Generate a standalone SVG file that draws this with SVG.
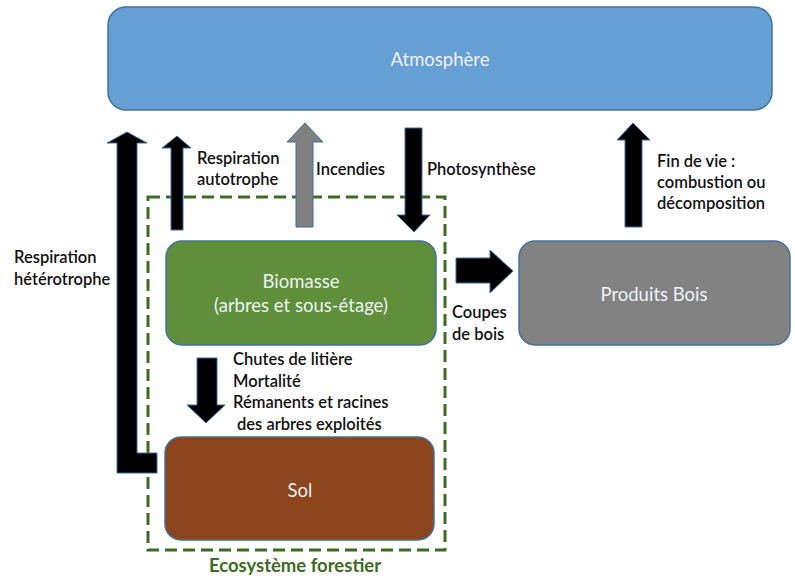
<svg xmlns="http://www.w3.org/2000/svg" width="795" height="579" viewBox="0 0 795 579">
<style>
.box{stroke:#41719c;stroke-width:1.5}
.bt{font-family:Lato,"Liberation Sans",sans-serif;font-size:18.5px;fill:#eef2f7;text-anchor:middle}
.lb{font-family:Lato,"Liberation Sans",sans-serif;font-size:16.5px;fill:#111;font-weight:600}
.arr{fill:#000;stroke:#3b6ea0;stroke-width:1}
.garr{fill:#808080;stroke:#3b6ea0;stroke-width:1}
</style>
<rect width="795" height="579" fill="#fff"/>
<g id="ecosysteme">
<rect x="148" y="197" width="297" height="353" fill="none" stroke="#3d6b22" stroke-width="3" stroke-dasharray="12,6"/>
<text x="295" y="572" font-family="Lato,'Liberation Sans',sans-serif" font-size="18.5px" font-weight="bold" fill="#3d6b22" text-anchor="middle">Ecosystème forestier</text>
</g>
<g id="atmosphere">
<rect class="box" x="108" y="7" width="664" height="103" rx="18" fill="#659fd3"/>
<text class="bt" x="440" y="66">Atmosphère</text>
</g>
<g id="biomasse">
<rect class="box" x="166" y="241" width="270" height="104" rx="16" fill="#5f8f3b"/>
<text class="bt" x="301" y="288">Biomasse</text>
<text class="bt" x="301" y="312">(arbres et sous-étage)</text>
</g>
<g id="produits">
<rect class="box" x="519" y="241" width="271" height="104" rx="16" fill="#828282"/>
<text class="bt" x="654" y="301">Produits Bois</text>
</g>
<g id="sol">
<rect class="box" x="165" y="437" width="269" height="103" rx="16" fill="#8b441c"/>
<text class="bt" x="300" y="497">Sol</text>
</g>
<g id="connectors">
<path class="arr" d="M117,143 L107,143 L127,132 L147,143 L137,143 L137,453 L157,453 L157,473 L117,473 Z"/>
<path class="arr" d="M171,230 L171,148 L162,148 L177,136 L191,148 L183,148 L183,230 Z"/>
<path class="garr" d="M296,227 L296,142 L287,142 L305,123 L323,142 L313,142 L313,227 Z"/>
<path class="arr" d="M405,128 L422,128 L422,215 L430,215 L414,232 L397,215 L405,215 Z"/>
<path class="arr" d="M456,258 L490,258 L490,250 L513,271 L490,293 L490,283 L456,283 Z"/>
<path class="arr" d="M625,227 L625,140 L617,140 L633,123 L650,140 L642,140 L642,227 Z"/>
<path class="arr" d="M197,358 L217,358 L217,405 L225,405 L206,423 L187,405 L197,405 Z"/>
</g>
<g id="labels">
<text class="lb" x="197" y="164">Respiration</text>
<text class="lb" x="197" y="185">autotrophe</text>
<text class="lb" x="316" y="175">Incendies</text>
<text class="lb" x="427" y="175">Photosynthèse</text>
<text class="lb" x="14" y="263">Respiration</text>
<text class="lb" x="14" y="285">hétérotrophe</text>
<text class="lb" x="657" y="167">Fin de vie :</text>
<text class="lb" x="657" y="188">combustion ou</text>
<text class="lb" x="657" y="209">décomposition</text>
<text class="lb" x="452" y="318">Coupes</text>
<text class="lb" x="452" y="340">de bois</text>
<text class="lb" x="233" y="365">Chutes de litière</text>
<text class="lb" x="233" y="387">Mortalité</text>
<text class="lb" x="233" y="408">Rémanents et racines</text>
<text class="lb" x="237" y="430">des arbres exploités</text>
</g>
</svg>
